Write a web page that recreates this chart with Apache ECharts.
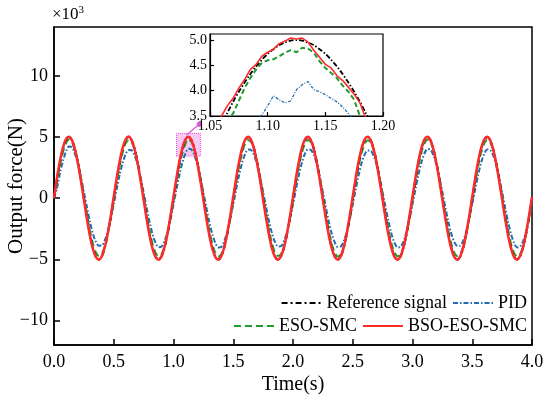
<!DOCTYPE html>
<html>
<head>
<meta charset="utf-8">
<script src="https://cdn.jsdelivr.net/npm/echarts@6/dist/echarts.min.js"></script>
<style>html,body{margin:0;padding:0;background:#fff;}#c{width:550px;height:399px;}</style>
</head>
<body>
<div id="c"></div>
<script>
// Sampling grid (s)
const mainStep = 0.025;
const insetStart = 1.05, insetStep = 0.005;

// Output force (x10^3 N), main plot
const refMain = [
0,1.55,2.94,4.05,4.76,5.00,4.76,4.05,2.94,1.55,0,-1.55,-2.94,-4.05,-4.76,-5.00,-4.76,-4.05,-2.94,-1.55,
0,1.55,2.94,4.05,4.76,5.00,4.76,4.05,2.94,1.55,0,-1.55,-2.94,-4.05,-4.76,-5.00,-4.76,-4.05,-2.94,-1.55,
0,1.55,2.94,4.05,4.76,5.00,4.76,4.05,2.94,1.55,0,-1.55,-2.94,-4.05,-4.76,-5.00,-4.76,-4.05,-2.94,-1.55,
0,1.55,2.94,4.05,4.76,5.00,4.76,4.05,2.94,1.55,0,-1.55,-2.94,-4.05,-4.76,-5.00,-4.76,-4.05,-2.94,-1.55,
0,1.55,2.94,4.05,4.76,5.00,4.76,4.05,2.94,1.55,0,-1.55,-2.94,-4.05,-4.76,-5.00,-4.76,-4.05,-2.94,-1.55,
0,1.55,2.94,4.05,4.76,5.00,4.76,4.05,2.94,1.55,0,-1.55,-2.94,-4.05,-4.76,-5.00,-4.76,-4.05,-2.94,-1.55,
0,1.55,2.94,4.05,4.76,5.00,4.76,4.05,2.94,1.55,0,-1.55,-2.94,-4.05,-4.76,-5.00,-4.76,-4.05,-2.94,-1.55,
0,1.55,2.94,4.05,4.76,5.00,4.76,4.05,2.94,1.55,0,-1.55,-2.94,-4.05,-4.76,-5.00,-4.76,-4.05,-2.94,-1.55,
0];
const pidMain = [
0,0.82,2.05,3.05,3.80,4.22,4.18,3.62,2.80,1.72,0.52,-0.70,-1.90,-2.88,-3.55,-3.88,-3.86,-3.45,-2.70,-1.68,
-0.48,0.76,1.95,2.90,3.60,3.94,3.92,3.48,2.75,1.68,0.48,-0.78,-1.95,-2.95,-3.65,-4.00,-3.95,-3.52,-2.76,-1.72,
-0.52,0.74,1.92,2.94,3.66,4.05,3.98,3.52,2.72,1.70,0.50,-0.76,-1.96,-2.94,-3.66,-4.02,-3.98,-3.50,-2.72,-1.70,
-0.50,0.76,1.94,2.92,3.62,3.98,3.94,3.50,2.74,1.72,0.52,-0.74,-1.92,-2.90,-3.60,-3.95,-3.92,-3.48,-2.74,-1.70,
-0.50,0.75,1.93,2.93,3.64,4.00,3.95,3.52,2.76,1.70,0.50,-0.75,-1.94,-2.92,-3.62,-3.98,-3.94,-3.50,-2.74,-1.72,
-0.52,0.74,1.92,2.90,3.58,3.90,3.88,3.46,2.72,1.68,0.48,-0.76,-1.95,-2.95,-3.66,-4.02,-3.98,-3.52,-2.75,-1.70,
-0.50,0.76,1.94,2.94,3.66,4.02,3.98,3.52,2.74,1.70,0.50,-0.74,-1.92,-2.90,-3.58,-3.90,-3.88,-3.46,-2.72,-1.68,
-0.48,0.75,1.93,2.92,3.62,3.98,3.94,3.50,2.74,1.70,0.50,-0.76,-1.95,-2.94,-3.66,-4.02,-3.96,-3.52,-2.75,-1.70,
-0.50];
const esoMain = [
0,1.32,2.68,3.76,4.50,4.80,4.60,3.97,2.95,1.66,0.20,-1.27,-2.62,-3.70,-4.42,-4.70,-4.55,-3.93,-2.92,-1.63,
-0.18,1.30,2.65,3.74,4.48,4.78,4.58,3.96,2.94,1.64,0.17,-1.30,-2.65,-3.74,-4.47,-4.74,-4.58,-3.96,-2.95,-1.65,
-0.18,1.28,2.63,3.72,4.45,4.82,4.60,3.95,2.93,1.63,0.18,-1.29,-2.64,-3.73,-4.46,-4.76,-4.57,-3.95,-2.94,-1.64,
-0.17,1.29,2.64,3.73,4.47,4.76,4.57,3.94,2.94,1.65,0.19,-1.28,-2.63,-3.72,-4.45,-4.72,-4.56,-3.94,-2.93,-1.63,
-0.19,1.30,2.65,3.74,4.46,4.77,4.58,3.96,2.95,1.64,0.18,-1.30,-2.65,-3.74,-4.48,-4.76,-4.59,-3.96,-2.95,-1.65,
-0.18,1.28,2.63,3.72,4.45,4.74,4.56,3.95,2.93,1.63,0.17,-1.29,-2.64,-3.73,-4.46,-4.75,-4.57,-3.95,-2.94,-1.64,
-0.18,1.29,2.64,3.73,4.47,4.78,4.58,3.95,2.94,1.64,0.18,-1.28,-2.63,-3.72,-4.45,-4.73,-4.56,-3.94,-2.93,-1.63,
-0.18,1.30,2.65,3.74,4.46,4.76,4.57,3.96,2.94,1.65,0.19,-1.29,-2.64,-3.74,-4.47,-4.76,-4.58,-3.96,-2.95,-1.64,
-0.17];
const bsoMain = [
0,1.70,3.08,4.15,4.83,5.03,4.75,4.00,2.86,1.44,-0.10,-1.66,-3.04,-4.12,-4.80,-5.03,-4.75,-4.00,-2.86,-1.44,
0.12,1.68,3.05,4.14,4.82,5.04,4.73,3.98,2.85,1.42,-0.12,-1.68,-3.06,-4.14,-4.82,-5.02,-4.74,-3.98,-2.84,-1.42,
0.13,1.67,3.06,4.13,4.82,5.03,4.74,4.00,2.86,1.43,-0.11,-1.67,-3.05,-4.13,-4.81,-5.04,-4.75,-3.99,-2.85,-1.43,
0.12,1.66,3.04,4.12,4.80,5.02,4.75,3.99,2.84,1.44,-0.12,-1.66,-3.04,-4.14,-4.82,-5.03,-4.73,-3.98,-2.86,-1.44,
0.11,1.67,3.05,4.14,4.81,5.03,4.74,3.98,2.85,1.43,-0.13,-1.67,-3.06,-4.13,-4.80,-5.02,-4.74,-4.00,-2.85,-1.42,
0.12,1.68,3.06,4.13,4.82,5.02,4.73,3.99,2.86,1.42,-0.12,-1.68,-3.05,-4.12,-4.81,-5.03,-4.75,-3.99,-2.84,-1.43,
0.13,1.67,3.04,4.12,4.81,5.03,4.75,4.00,2.85,1.43,-0.12,-1.66,-3.05,-4.14,-4.82,-5.02,-4.74,-3.98,-2.85,-1.44,
0.12,1.66,3.05,4.13,4.80,5.02,4.74,3.99,2.84,1.43,-0.11,-1.67,-3.04,-4.13,-4.81,-5.03,-4.73,-3.99,-2.86,-1.43,
0.10];

// Inset (1.05 - 1.20 s)
const refInset = [2.85,3.10,3.34,3.56,3.78,3.98,4.16,4.33,4.48,4.61,4.73,4.82,4.90,4.95,4.99,5.00,4.99,4.95,4.90,4.82,4.73,4.61,4.48,4.33,4.16,3.98,3.78,3.56,3.34,3.10,2.85];
const bsoInset = [3.05,3.28,3.50,3.70,3.85,4.05,4.22,4.42,4.52,4.68,4.76,4.82,4.93,4.98,5.04,5.02,5.04,4.96,4.80,4.66,4.52,4.45,4.30,4.20,4.07,3.93,3.76,3.45,3.20,2.95,2.70];
const esoInset = [2.85,3.05,3.25,3.40,3.55,3.80,4.05,4.25,4.42,4.55,4.60,4.62,4.68,4.75,4.80,4.76,4.85,4.83,4.75,4.58,4.45,4.35,4.25,4.10,3.98,3.82,3.50,3.30,3.10,2.90,2.70];
const pidInset = [2.35,2.55,2.72,2.90,3.02,3.12,3.22,3.35,3.42,3.52,3.70,3.90,3.82,3.76,3.80,4.02,4.12,4.18,4.02,3.98,3.92,3.85,3.78,3.68,3.55,3.40,3.30,3.18,3.05,2.92,2.80];

const xTicks = [0,0.5,1,1.5,2,2.5,3,3.5,4];
const yTicks = [-10,-5,0,5,10];
const insetYTicks = [3.5,4.0,4.5,5.0];
const legendRow1 = ['Reference signal','PID'];
const legendRow2 = ['ESO-SMC','BSO-ESO-SMC'];

const tMain = refMain.map((_, i) => +(i * mainStep).toFixed(3));
const tInset = refInset.map((_, i) => +(insetStart + i * insetStep).toFixed(3));
const pairs = (t, v) => t.map((x, i) => [x, v[i]]);

const FONT = "'Times New Roman','Liberation Serif',serif";
const C = { ref:'#000000', pid:'#1f6db0', eso:'#1e9a2e', bso:'#ff2b2b', pink:'#e84fd6' };
const minus = v => (v < 0 ? '\u2212' + Math.abs(v) : String(v));

const chart = echarts.init(document.getElementById('c'), null, { renderer: 'canvas' });
const axisLineStyle = { color: '#000', width: 1.5 };
const legendCommon = { padding: 0, itemWidth: 40, itemHeight: 14, itemGap: 5,
  itemStyle: { opacity: 0 }, textStyle: { color: '#000', fontSize: 18, fontFamily: FONT } };

const option = {
  animation: false,
  backgroundColor: '#fff',
  textStyle: { fontFamily: FONT },
  grid: [
    { left: 54, right: 18, top: 27, bottom: 54, show: true, borderColor: '#000', borderWidth: 1.5,
      backgroundColor: 'transparent', containLabel: false, outerBoundsMode: 'none' },
    { left: 210, top: 34, width: 173, height: 82, show: true, borderColor: '#000', borderWidth: 1.2,
      backgroundColor: '#fff', z: 5, containLabel: false, outerBoundsMode: 'none' }
  ],
  xAxis: [
    { type: 'value', gridIndex: 0, min: 0, max: 4, interval: 0.5,
      axisLine: { onZero: false, lineStyle: axisLineStyle },
      axisTick: { inside: true, length: 6, lineStyle: axisLineStyle, customValues: xTicks },
      axisLabel: { color: '#000', fontSize: 18, fontFamily: FONT, margin: 8, customValues: xTicks, formatter: v => v.toFixed(1) },
      splitLine: { show: false },
      name: 'Time(s)', nameLocation: 'middle', nameGap: 30, nameMoveOverlap: false,
      nameTextStyle: { color: '#000', fontSize: 20, fontFamily: FONT } },
    { type: 'value', gridIndex: 1, min: 1.05, max: 1.20, interval: 0.05, z: 6,
      axisLine: { onZero: false, lineStyle: { color: '#000', width: 1.2 } },
      axisTick: { inside: true, length: 4, lineStyle: { color: '#000', width: 1.2 } },
      axisLabel: { color: '#000', fontSize: 14, fontFamily: FONT, margin: 3, formatter: v => v.toFixed(2) },
      splitLine: { show: false } }
  ],
  yAxis: [
    { type: 'value', gridIndex: 0, min: -12, max: 14,
      axisLine: { onZero: false, lineStyle: axisLineStyle },
      axisTick: { inside: true, length: 6, lineStyle: axisLineStyle, customValues: yTicks },
      axisLabel: { color: '#000', fontSize: 18, fontFamily: FONT, margin: 6, customValues: yTicks, formatter: minus },
      splitLine: { show: false },
      name: 'Output force(N)', nameLocation: 'middle', nameGap: 27, nameRotate: 90, nameMoveOverlap: false,
      nameTextStyle: { color: '#000', fontSize: 21, fontFamily: FONT } },
    { type: 'value', gridIndex: 1, min: 3.5, max: 5.12, z: 6,
      axisLine: { onZero: false, lineStyle: { color: '#000', width: 1.2 } },
      axisTick: { inside: true, length: 4, lineStyle: { color: '#000', width: 1.2 }, customValues: insetYTicks },
      axisLabel: { color: '#000', fontSize: 14, fontFamily: FONT, margin: 3, customValues: insetYTicks, formatter: v => v.toFixed(1) },
      splitLine: { show: false } }
  ],
  legend: [
    Object.assign({ data: legendRow1, right: 23, top: 294 }, legendCommon),
    Object.assign({ data: legendRow2, right: 23, top: 317 }, legendCommon)
  ],
  graphic: [
    { type: 'text', left: 52, top: 5, z: 10,
      style: { text: '×10{s|3}', font: "17px 'Liberation Serif', serif", fill: '#000',
               rich: { s: { fontSize: 11, fontFamily: FONT, verticalAlign: 'top', padding: [0, 0, 8, 0] } } } }
  ],
  series: [
    { name: 'Reference signal', type: 'line', xAxisIndex: 0, yAxisIndex: 0, data: pairs(tMain, refMain),
      symbol: 'none', smooth: 0.3, z: 3,
      lineStyle: { color: C.ref, width: 2, type: [6, 3, 2, 3] }, itemStyle: { color: C.ref },
      markArea: { silent: true, itemStyle: { color: 'rgba(240,150,235,0.5)', borderColor: C.pink, borderWidth: 1, borderType: 'dotted' },
        data: [[{ coord: [1.025, 3.45] }, { coord: [1.225, 5.3] }]] },
      markLine: { silent: true, symbol: ['none', 'circle'], symbolSize: 5, label: { show: false },
        lineStyle: { color: C.pink, width: 1.3, type: 'solid' },
        data: [[{ coord: [1.108, 5.16] }, { coord: [1.215, 6.05] }]] } },
    { name: 'PID', type: 'line', xAxisIndex: 0, yAxisIndex: 0, data: pairs(tMain, pidMain),
      symbol: 'none', smooth: 0.3, z: 2,
      lineStyle: { color: C.pid, width: 2, type: [5, 2, 1.5, 2] }, itemStyle: { color: C.pid } },
    { name: 'ESO-SMC', type: 'line', xAxisIndex: 0, yAxisIndex: 0, data: pairs(tMain, esoMain),
      symbol: 'none', smooth: 0.3, z: 2,
      lineStyle: { color: C.eso, width: 2, type: [7, 4] }, itemStyle: { color: C.eso } },
    { name: 'BSO-ESO-SMC', type: 'line', xAxisIndex: 0, yAxisIndex: 0, data: pairs(tMain, bsoMain),
      symbol: 'none', smooth: 0.3, z: 4,
      lineStyle: { color: C.bso, width: 2.5 }, itemStyle: { color: C.bso } },

    { name: 'PID', type: 'line', xAxisIndex: 1, yAxisIndex: 1, data: pairs(tInset, pidInset),
      symbol: 'none', z: 10, lineStyle: { color: C.pid, width: 1.3, type: [3, 1.5, 1, 1.5] } },
    { name: 'ESO-SMC', type: 'line', xAxisIndex: 1, yAxisIndex: 1, data: pairs(tInset, esoInset),
      symbol: 'none', z: 10, lineStyle: { color: C.eso, width: 2, type: [5, 3] } },
    { name: 'Reference signal', type: 'line', xAxisIndex: 1, yAxisIndex: 1, data: pairs(tInset, refInset),
      symbol: 'none', smooth: 0.3, z: 10, lineStyle: { color: C.ref, width: 1.8, type: [5, 2, 1.5, 2] } },
    { name: 'BSO-ESO-SMC', type: 'line', xAxisIndex: 1, yAxisIndex: 1, data: pairs(tInset, bsoInset),
      symbol: 'none', z: 11, lineStyle: { color: C.bso, width: 1.6 } }
  ]
};
chart.setOption(option);
</script>
</body>
</html>
